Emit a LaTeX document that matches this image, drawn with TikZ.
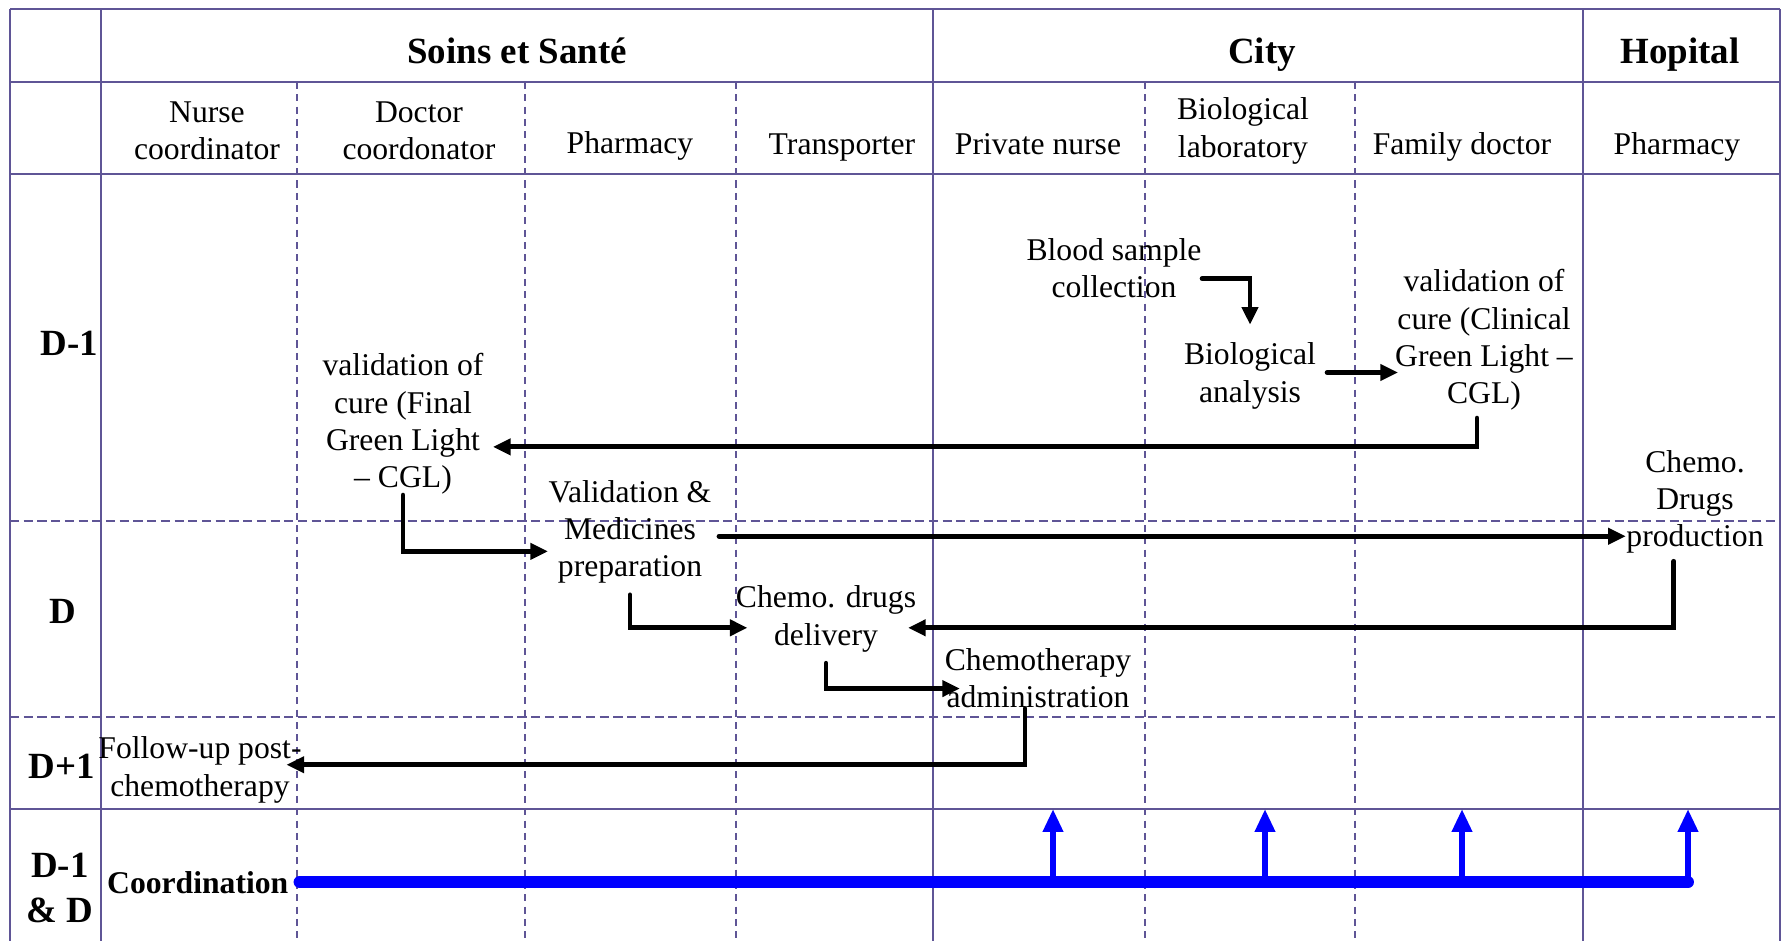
\documentclass[tikz,border=0pt]{standalone}
\usepackage{fontspec}
\setmainfont{Liberation Serif}
\usetikzlibrary{arrows.meta}
\definecolor{gridc}{RGB}{95,85,150}
\tikzset{
  frame/.style={draw=gridc, line width=0.6pt},
  dashv/.style={draw=gridc, line width=0.45pt, dash pattern=on 2pt off 1.5pt},
  dashh/.style={draw=gridc, line width=0.7pt, dash pattern=on 2.6pt off 1.3pt},
  hdr/.style={font=\bfseries\fontsize{10.5}{12.5}\selectfont, inner sep=0pt},
  lane/.style={font=\fontsize{9}{10.6}\selectfont, align=center, inner sep=0pt},
  proc/.style={font=\fontsize{9}{10.6}\selectfont, align=center, inner sep=0pt},
  flow/.style={line width=1.4pt, line cap=round, -{Triangle[length=5pt,width=4.5pt]}},
  coline/.style={blue, line width=3.4pt, line cap=round},
  coarrow/.style={blue, line width=1.6pt, -{Triangle[length=6.5pt,width=5.5pt]}}
}
\begin{document}
\begin{tikzpicture}[x=0.01cm, y=-0.01cm]
        \useasboundingbox (0,0) rectangle (1784,941);
        % table
        \draw[frame] (10,9) -- (1780,9);
        \foreach \y in {82,174,809}
            \draw[frame] (10,\y) -- (1780,\y);
        \foreach \y in {521,717}
            \draw[dashh] (10,\y) -- (1780,\y);
        \foreach \x in {10,101,933,1583,1780}
            \draw[frame] (\x,9) -- (\x,941);
        \foreach \x in {297,525,736,1145,1355}
            \draw[dashv] (\x,82) -- (\x,941);

        % headers
        \node[hdr, anchor=base] (soins) at (517, 63) {Soins et Santé};
        \node[hdr, anchor=base] (city) at (1262, 63) {City};
        \node[hdr, anchor=base] (hopital) at (1680, 63) {Hopital};
        \node[lane] (nursec) at (207, 131) {Nurse\\coordinator};
        \node[lane] (doctorc) at (419, 131) {Doctor\\coordonator};
        \node[lane, anchor=base] (pharm) at (630, 153) {Pharmacy};
        \node[lane, anchor=base] (transp) at (842, 154) {Transporter};
        \node[lane, anchor=base] (privn) at (1038, 154) {Private nurse};
        \node[lane] (biolab) at (1243, 131) {Biological\\laboratory};
        \node[lane, anchor=base] (famdoc) at (1462, 154) {Family doctor};
        \node[lane, anchor=base] (hpharm) at (1677, 154) {Pharmacy};

        % days
        \node[hdr, anchor=base east] (dm1) at (99, 355) {D-1};
        \node[hdr, anchor=base] (d0) at (63, 623) {D};
        \node[hdr, anchor=base] (dp1) at (62, 778) {D+1};
        \node[hdr, align=center, font=\bfseries\fontsize{10.5}{13}\selectfont] (dd) at (60, 888) {D-1\\\& D};

        % steps
        \node[proc] (blood) at (1114, 268) {Blood sample\\collection};
        \node[proc] (bioana) at (1250, 376) {Biological\\analysis};
        \node[proc] (cgl) at (1484, 340) {validation of\\cure (Clinical\\Green Light --\\CGL)};
        \node[proc] (fgl) at (403, 424) {validation of\\cure (Final\\Green Light\\-- CGL)};
        \node[proc] (prep) at (630, 532) {Validation \&\\Medicines\\preparation};
        \node[proc] (prod) at (1695, 502) {Chemo.\\Drugs\\production};
        \node[proc] (deliv) at (826, 619) {Chemo. drugs\\delivery};
        \node[proc] (admin) at (1038, 678) {Chemotherapy\\administration};
        \node[proc] (follow) at (200, 770) {Follow-up post-\\chemotherapy};

        \draw[flow] ([yshift=-3pt]blood.east) -| ([yshift=5pt]bioana.north);
        \draw[flow] ([xshift=3pt,yshift=1pt]bioana.east) -- ([xshift=1pt,yshift=1pt]bioana.east -| cgl.west);
        \draw[flow] ([xshift=-2pt,yshift=-2pt]cgl.south) |- ([xshift=2.5pt,yshift=-6.5pt]fgl.east);
        \draw[flow] (fgl.south) |- ([yshift=-5.5pt]prep.west);
        \draw[flow] ([xshift=2pt,yshift=-1.2pt]prep.east) -- ([yshift=-1.2pt]prep.east -| prod.west);
        \draw[flow] ([xshift=-6pt,yshift=-2pt]prod.south) |- ([xshift=-2.5pt,yshift=-2.5pt]deliv.east);
        \draw[flow] ([yshift=-3pt]prep.south) |- ([xshift=3.5pt,yshift=-2.5pt]deliv.west);
        \draw[flow] ([yshift=-3pt]deliv.south) |- ([xshift=4.5pt,yshift=-3pt]admin.west);
        \draw[flow] ([xshift=-3.7pt]admin.south) |- ([xshift=-4.5pt,yshift=1.5pt]follow.east);

        % coordination
        \node[hdr, font=\bfseries\fontsize{9}{11}\selectfont, anchor=base east] (coord) at (289, 893) {Coordination};
        \coordinate (cend) at (1688, 884);
        \draw[coline] ([xshift=3pt]coord.east) -- (coord.east -| cend);
        \foreach \x [count=\i] in {1053,1265,1462,1688} {
            \coordinate (up\i) at (\x, 809);
            \draw[coarrow] (up\i |- coord.east) -- (up\i);
        }
    \end{tikzpicture}
\end{document}
